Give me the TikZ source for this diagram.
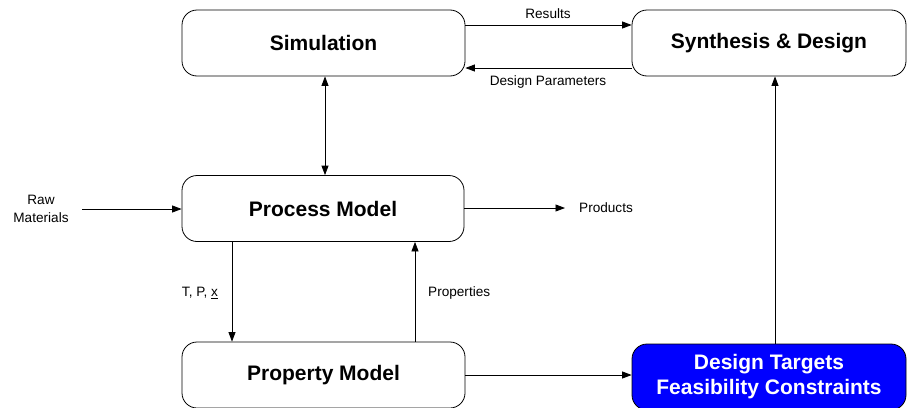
\documentclass[tikz,border=0pt]{standalone}
\usepackage{fontspec}
\setmainfont{Liberation Sans}
\usetikzlibrary{arrows.meta}
\begin{document}
\begin{tikzpicture}[x=1pt,y=-1pt,
  block/.style={draw=black, line width=0.8pt, rounded corners=15pt, fill=white,
    minimum height=66pt, inner sep=0pt, font=\fontsize{21}{24}\selectfont\bfseries},
  target/.style={block, fill={rgb,255:red,0;green,0;blue,255}, text=white, align=center,
    font=\fontsize{21}{25}\selectfont\bfseries},
  lbl/.style={inner sep=0pt, font=\fontsize{13.6}{17}\selectfont},
  arr/.style={draw=black, line width=0.8pt, -{Triangle[length=9.5pt,width=7pt]}},
  darr/.style={draw=black, line width=0.8pt, {Triangle[length=9.5pt,width=7pt]}-{Triangle[length=9.5pt,width=7pt]}}]
\useasboundingbox (0,0) rectangle (907,407);
\clip (0,0) rectangle (907,407);

% blocks
\node[block, minimum width=283pt] (sim)  at (323.5,43)  {Simulation};
\node[block, minimum width=274pt] (syn)  at (769,43)    {Synthesis \& Design};
\node[block, minimum width=282pt] (proc) at (323,208.5) {Process Model};
\node[block, minimum width=283pt] (prop) at (323.5,375) {Property Model};
\node[target, minimum width=274pt] (tgt) at (769,377) {Design Targets\\Feasibility Constraints};

% simulation <-> synthesis
\draw[arr]  (sim.east |- 0,25) -- (syn.west |- 0,25);
\draw[arr]  (syn.west |- 0,68) -- (sim.east |- 0,68);
\node[lbl] (res) at (548,14) {Results};
\node[lbl] (dp)  at (548,82) {Design Parameters};

% simulation <-> process model
\draw[darr] (sim.south -| 325,0) -- (proc.north -| 325,0);

% feeds and products
\coordinate (rawend) at (82,209);
\node[lbl, align=center, font=\fontsize{13.6}{18}\selectfont] (raw) at (41,209) {Raw\\Materials};
\draw[arr] (rawend) -- (proc.west |- rawend);
\coordinate (prodend) at (565,208);
\draw[arr] (proc.east |- prodend) -- (prodend);
\node[lbl, anchor=west] (prod) at (579,208) {Products};

% process model <-> property model
\draw[arr] (proc.south -| 232,0) -- (prop.north -| 232,0);
\node[lbl] (tpx) at (200,293) {T, P, \underline{x}};
\draw[arr] (prop.north -| 415,0) -- (proc.south -| 415,0);
\node[lbl, anchor=west] (props) at (428,293) {Properties};

% property model -> targets -> synthesis
\draw[arr] (prop.east |- 0,375) -- (tgt.west |- 0,375);
\draw[arr] (tgt.north -| 775,0) -- (syn.south -| 775,0);
\end{tikzpicture}
\end{document}
